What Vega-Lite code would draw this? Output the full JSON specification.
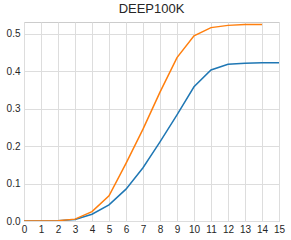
{
  "$schema": "https://vega.github.io/schema/vega-lite/v6.json",
  "width": 255,
  "height": 199,
  "autosize": {"type": "none"},
  "padding": {"left": 24, "top": 22, "right": 12, "bottom": 19},
  "background": "white",
  "title": {"text": "DEEP100K", "fontSize": 13, "font": "Liberation Sans", "fontWeight": "normal", "color": "#262626", "offset": 6},
  "config": {
    "view": {"stroke": "#cccccc", "strokeWidth": 1},
    "axis": {"labelFont": "Liberation Sans", "labelFontSize": 10, "labelColor": "#262626", "gridColor": "#dddddd", "gridWidth": 1, "domain": false, "ticks": false, "title": null}
  },
  "data": {"values": [
    {"x": 0, "y": 0, "s": "a"}, {"x": 1, "y": 0, "s": "a"}, {"x": 2, "y": 0.001, "s": "a"}, {"x": 3, "y": 0.004, "s": "a"},
    {"x": 4, "y": 0.018, "s": "a"}, {"x": 5, "y": 0.043, "s": "a"}, {"x": 6, "y": 0.085, "s": "a"}, {"x": 7, "y": 0.142, "s": "a"},
    {"x": 8, "y": 0.211, "s": "a"}, {"x": 9, "y": 0.283, "s": "a"}, {"x": 10, "y": 0.358, "s": "a"}, {"x": 11, "y": 0.403, "s": "a"},
    {"x": 12, "y": 0.418, "s": "a"}, {"x": 13, "y": 0.421, "s": "a"}, {"x": 14, "y": 0.422, "s": "a"}, {"x": 15, "y": 0.422, "s": "a"},
    {"x": 0, "y": 0, "s": "b"}, {"x": 1, "y": 0, "s": "b"}, {"x": 2, "y": 0.001, "s": "b"}, {"x": 3, "y": 0.005, "s": "b"},
    {"x": 4, "y": 0.025, "s": "b"}, {"x": 5, "y": 0.067, "s": "b"}, {"x": 6, "y": 0.154, "s": "b"}, {"x": 7, "y": 0.245, "s": "b"},
    {"x": 8, "y": 0.344, "s": "b"}, {"x": 9, "y": 0.436, "s": "b"}, {"x": 10, "y": 0.494, "s": "b"}, {"x": 11, "y": 0.516, "s": "b"},
    {"x": 12, "y": 0.522, "s": "b"}, {"x": 13, "y": 0.524, "s": "b"}, {"x": 14, "y": 0.524, "s": "b"}
  ]},
  "mark": {"type": "line", "strokeWidth": 1.5, "clip": true},
  "encoding": {
    "x": {"field": "x", "type": "quantitative", "scale": {"domain": [0, 15], "nice": false, "zero": false},
          "axis": {"values": [0,1,2,3,4,5,6,7,8,9,10,11,12,13,14,15], "labelPadding": 3, "labelFlush": false}},
    "y": {"field": "y", "type": "quantitative", "scale": {"domain": [0, 0.531], "nice": false},
          "axis": {"values": [0, 0.1, 0.2, 0.3, 0.4, 0.5], "format": ".1f", "labelPadding": 4}},
    "color": {"field": "s", "type": "nominal", "scale": {"domain": ["a", "b"], "range": ["#1f77b4", "#ff7f0e"]}, "legend": null}
  }
}
